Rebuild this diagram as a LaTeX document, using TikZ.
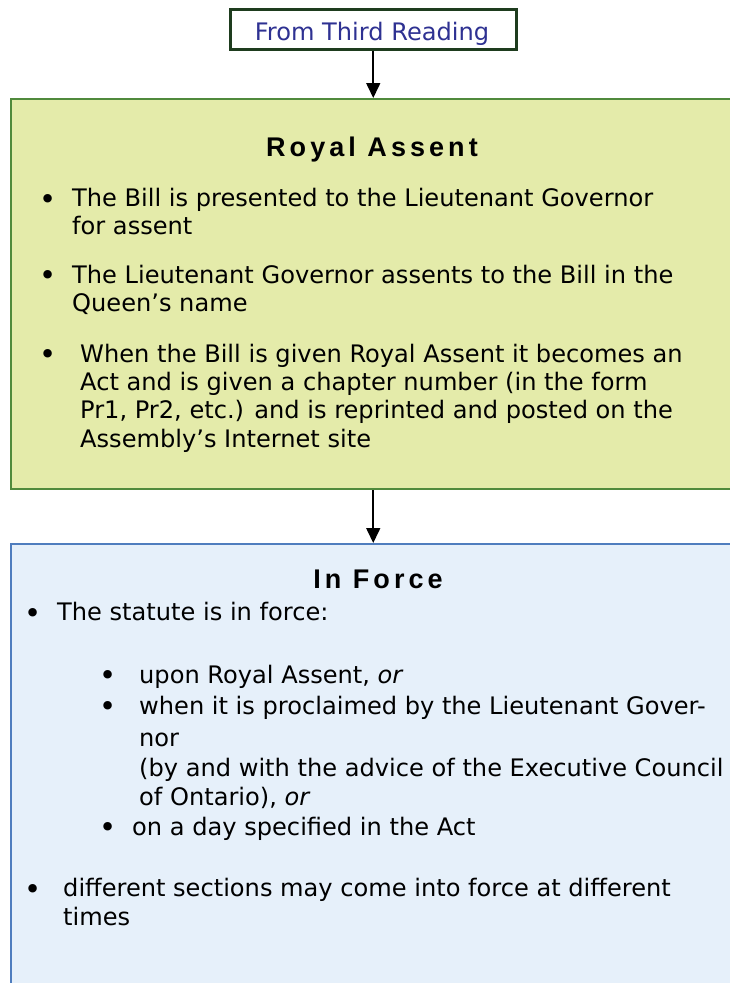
\documentclass[tikz,border=0pt]{standalone}
\usepackage{fontspec}
\setmainfont{DejaVu Sans}
\newfontfamily\headfont{Liberation Sans}[LetterSpace=15]
\usetikzlibrary{arrows.meta}
\definecolor{gfill}{RGB}{228,235,170}
\definecolor{gline}{RGB}{80,138,60}
\definecolor{bfill}{RGB}{230,240,250}
\definecolor{bline}{RGB}{79,125,190}
\definecolor{topline}{RGB}{30,60,30}
\definecolor{toptext}{RGB}{46,49,146}
\tikzset{
  body/.style={inner sep=0pt, anchor=base west, font=\fontsize{24.1}{28}\selectfont},
  bul/.style={inner sep=0pt, anchor=base, yshift=-2.5pt, font=\fontsize{29}{30}\selectfont},
  head/.style={inner sep=0pt, anchor=base, font=\headfont\bfseries\fontsize{27}{30}\selectfont},
  conn/.style={-{Triangle[width=14pt,length=15pt]}, line width=1.6pt, black},
}
\begin{document}
\begin{tikzpicture}[x=1pt,y=-1pt]
\useasboundingbox (0,0) rectangle (730,983);
\clip (0,0) rectangle (730,983);
% boxes
\node[draw=topline, line width=2.5pt, fill=white, minimum width=286pt, minimum height=40pt, inner sep=0pt, anchor=north west] (top) at (229,8) {};
\node[text=toptext, font=\fontsize{24.1}{28}\selectfont, inner sep=0pt, anchor=base] (toptxt) at (372,40) {From Third Reading};
\node[draw=gline, line width=2pt, fill=gfill, minimum width=726pt, minimum height=390pt, inner sep=0pt, anchor=north west] (ra) at (10,98) {};
\node[draw=bline, line width=2pt, fill=bfill, minimum width=726pt, minimum height=460pt, inner sep=0pt, anchor=north west] (inf) at (10,543) {};
\draw[conn] (top.south) -- (top.south |- ra.north);
\draw[conn] (top.south |- ra.south) -- (top.south |- inf.north);
% Royal Assent
\node[head] (rah) at (372,156) {Royal Assent};
\node[bul] (rb1) at (48,206.5) {•};
\node[body] (r1a) at (72,206.5) {The Bill is presented to the Lieutenant Governor};
\node[body] (r1b) at (72,234.5) {for assent};
\node[bul] (rb2) at (48,283) {•};
\node[body] (r2a) at (72,283) {The Lieutenant Governor assents to the Bill in the};
\node[body] (r2b) at (72,311) {Queen’s name};
\node[bul] (rb3) at (48,362) {•};
\node[body] (r3a) at (80,362) {When the Bill is given Royal Assent it becomes an};
\node[body] (r3b) at (80,390.3) {Act and is given a chapter number (in the form};
\node[body] (r3c) at (80,418.6) {Pr1, Pr2, etc.) and is reprinted and posted on the};
\node[body] (r3d) at (80,447) {Assembly’s Internet site};
% In Force
\node[head] (ifh) at (378,588) {In Force};
\node[bul] (ib1) at (33,620.5) {•};
\node[body] (i1) at (57,620.5) {The statute is in force:};
\node[bul] (sb1) at (108,683) {•};
\node[body] (s1) at (139,683) {upon Royal Assent, \textit{or}};
\node[bul] (sb2) at (108,714) {•};
\node[body] (s2a) at (139,714) {when it is proclaimed by the Lieutenant Gover-};
\node[body] (s2b) at (139,746) {nor};
\node[body] (s2c) at (139,776) {(by and with the advice of the Executive Council};
\node[body] (s2d) at (139,805.5) {of Ontario), \textit{or}};
\node[bul] (sb3) at (108,835) {•};
\node[body] (s3) at (132,835) {on a day specified in the Act};
\node[bul] (ib2) at (33,896.7) {•};
\node[body] (i2a) at (63,896.7) {different sections may come into force at different};
\node[body] (i2b) at (63,925.7) {times};
\end{tikzpicture}
\end{document}
